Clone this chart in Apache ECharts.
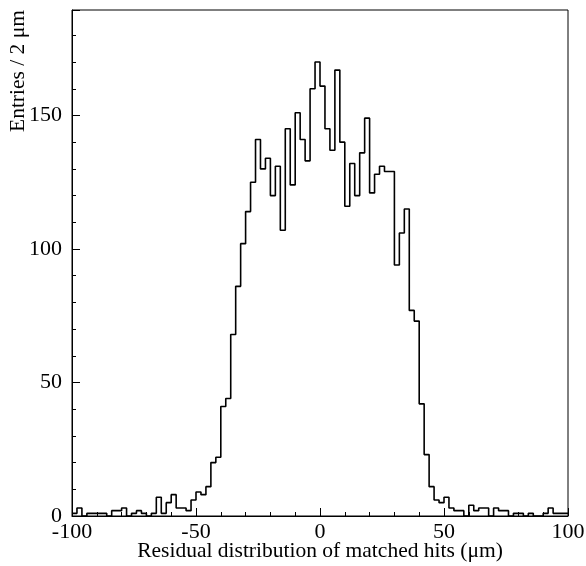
<!DOCTYPE html>
<html>
<head>
<meta charset="utf-8">
<script src="https://cdn.jsdelivr.net/npm/echarts@6/dist/echarts.min.js"></script>
<style>
html,body{margin:0;padding:0;background:#fff;}
#chart{width:586px;height:566px;}
</style>
</head>
<body>
<div id="chart"></div>
<script>
// Histogram: 100 bins of 2 µm from -100 to 100
const binLow = -100;
const binWidth = 2;
const counts = [
  1, 3, 0, 1, 1, 1, 1, 0, 2, 2,
  3, 0, 1, 2, 1, 0, 1, 7, 1, 5,
  8, 3, 3, 2, 6, 9, 8, 11, 20, 22,
  41, 44, 68, 86, 102, 114, 125, 141, 130, 134,
  120, 131, 107, 145, 124, 151, 141, 133, 160, 170,
  161, 145, 137, 167, 140, 116, 132, 120, 136, 149,
  121, 128, 131, 129, 129, 94, 106, 115, 77, 73,
  42, 23, 11, 6, 5, 7, 3, 2, 2, 0,
  4, 2, 3, 3, 0, 3, 2, 2, 0, 1,
  1, 0, 1, 0, 0, 1, 3, 1, 1, 1
];
const xTickLabels = [-100, -50, 0, 50, 100];
const yTickLabels = [0, 50, 100, 150];
const xTitle = 'Residual distribution of matched hits (\u03bcm)';
const yTitle = 'Entries / 2 \u03bcm';

const stepData = counts.map((c, k) => [binLow + binWidth * k, c]);
stepData.push([binLow + binWidth * counts.length, counts[counts.length - 1]]);

const font = '"Liberation Serif", "DejaVu Serif", serif';
const chart = echarts.init(document.getElementById('chart'), null, {renderer: 'canvas'});
const axisLineStyle = {color: '#000', width: 1};

chart.setOption({
  animation: false,
  backgroundColor: '#fff',
  grid: {left: 72, right: 18, top: 10, bottom: 50, show: true, borderColor: '#000', borderWidth: 1, containLabel: false, outerBoundsMode: 'none'},
  xAxis: [
    {
      type: 'value', min: -100, max: 100, interval: 10, position: 'bottom',
      axisLine: {show: true, onZero: false, lineStyle: axisLineStyle},
      axisTick: {show: true, inside: true, length: 4, lineStyle: axisLineStyle},
      splitLine: {show: false},
      axisLabel: {
        margin: 5, color: '#000', fontFamily: font, fontSize: 22,
        showMinLabel: true, showMaxLabel: true,
        formatter: v => (xTickLabels.indexOf(v) >= 0 ? String(v) : '')
      }
    },
    {
      type: 'value', min: -100, max: 100, interval: 50, position: 'bottom',
      axisLine: {show: false, onZero: false},
      axisTick: {show: true, inside: true, length: 8, lineStyle: axisLineStyle},
      splitLine: {show: false},
      axisLabel: {show: false}
    }
  ],
  yAxis: [
    {
      type: 'value', min: 0, max: 189.5, interval: 10, position: 'left',
      axisLine: {show: true, onZero: false, lineStyle: axisLineStyle},
      axisTick: {show: true, inside: true, length: 4, lineStyle: axisLineStyle},
      splitLine: {show: false},
      axisLabel: {
        margin: 10, color: '#000', fontFamily: font, fontSize: 22,
        showMaxLabel: false,
        formatter: v => (yTickLabels.indexOf(v) >= 0 ? String(v) : '')
      }
    },
    {
      type: 'value', min: 0, max: 189.5, interval: 50, position: 'left',
      axisLine: {show: false, onZero: false},
      axisTick: {show: true, inside: true, length: 8, lineStyle: axisLineStyle},
      splitLine: {show: false},
      axisLabel: {show: false}
    }
  ],
  graphic: [
    {
      type: 'text', x: 320, y: 551,
      style: {text: xTitle, fill: '#000', font: '21.5px ' + font, align: 'center', verticalAlign: 'middle'}
    },
    {
      type: 'text', x: 18, y: 10, rotation: Math.PI / 2,
      style: {text: yTitle, fill: '#000', font: '21.5px ' + font, align: 'right', verticalAlign: 'middle'}
    }
  ],
  series: [
    {
      type: 'line', step: 'end', xAxisIndex: 0, yAxisIndex: 0,
      data: stepData, showSymbol: false, symbol: 'none',
      lineStyle: {color: '#000', width: 1.6},
      clip: true, silent: true
    }
  ]
});
</script>
</body>
</html>
